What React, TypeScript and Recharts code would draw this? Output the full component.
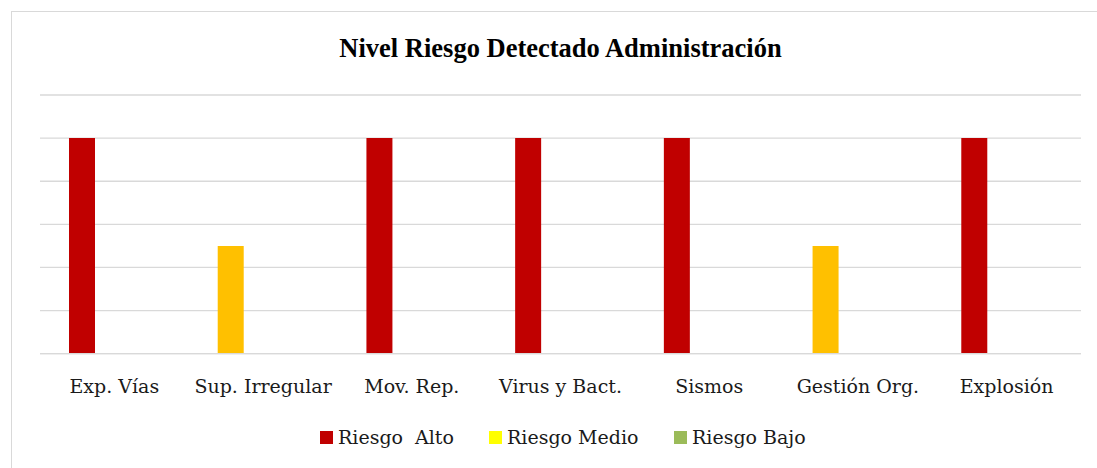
import { BarChart, Bar, CartesianGrid, XAxis, YAxis, Cell } from 'recharts'

const categories = [
  'Exp. Vías',
  'Sup. Irregular',
  'Mov. Rep.',
  'Virus y Bact.',
  'Sismos',
  'Gestión Org.',
  'Explosión',
]
const riesgoAlto = [5, 2.5, 5, 5, 5, 2.5, 5]
const riesgoMedio = [0, 0, 0, 0, 0, 0, 0]
const riesgoBajo = [0, 0, 0, 0, 0, 0, 0]
const yTicks = [0, 1, 2, 3, 4, 5, 6]

const data = categories.map((name, i) => ({
  name,
  alto: riesgoAlto[i],
  medio: riesgoMedio[i],
  bajo: riesgoBajo[i],
}))

const RED = '#C00000'
const ORANGE = '#FFC000'
const YELLOW = '#FFFF00'
const GREEN = '#9BBB59'
const GRID = '#D9D9D9'
const FONT = '"DejaVu Serif", serif'

function CategoryTick(props: any) {
  const { x, y, payload } = props
  return (
    <text
      x={x}
      y={y + 31}
      textAnchor="middle"
      fill="#1a1a1a"
      style={{ fontFamily: FONT, fontSize: 19 }}
    >
      {payload.value}
    </text>
  )
}

const legendItems = [
  { label: 'Riesgo  Alto', color: RED, left: 320 },
  { label: 'Riesgo Medio', color: YELLOW, left: 489 },
  { label: 'Riesgo Bajo', color: GREEN, left: 674 },
]

export default function App() {
  return (
    <div
      style={{
        position: 'absolute',
        left: 0,
        top: 0,
        width: 1097,
        height: 468,
        overflow: 'hidden',
        background: '#FFFFFF',
      }}
    >
      <div
        style={{
          position: 'absolute',
          left: 10.5,
          top: 10.5,
          width: 1120,
          height: 500,
          border: `1.5px solid ${GRID}`,
        }}
      />

      <div
        style={{
          position: 'absolute',
          left: 0,
          width: 1121,
          top: 34.5,
          textAlign: 'center',
          fontFamily: '"Liberation Serif", serif',
          fontWeight: 700,
          fontSize: 26.5,
          lineHeight: 1,
          color: '#000',
        }}
      >
        Nivel Riesgo Detectado Administración
      </div>

      <div style={{ position: 'absolute', left: 0, top: 0 }}>
        <BarChart
          width={1097}
          height={468}
          data={data}
          margin={{ top: 95, right: 16, bottom: 84.3, left: 40 }}
          barGap={6}
        >
          <CartesianGrid
            vertical={false}
            stroke={GRID}
            strokeWidth={1.3}
          />
          <YAxis hide domain={[0, 6]} ticks={yTicks} />
          <XAxis
            dataKey="name"
            height={30}
            axisLine={{ stroke: GRID, strokeWidth: 1.3 }}
            tickLine={false}
            tick={<CategoryTick />}
            interval={0}
          />
          <Bar dataKey="alto" name="Riesgo  Alto" fill={RED} barSize={26} isAnimationActive={false}>
            {data.map((d, i) => (
              <Cell key={i} fill={d.alto >= 5 ? RED : ORANGE} />
            ))}
          </Bar>
          <Bar dataKey="medio" name="Riesgo Medio" fill={YELLOW} barSize={26} isAnimationActive={false} />
          <Bar dataKey="bajo" name="Riesgo Bajo" fill={GREEN} barSize={26} isAnimationActive={false} />
        </BarChart>
      </div>

      {legendItems.map((item) => (
        <div
          key={item.label}
          style={{
            position: 'absolute',
            left: item.left,
            top: 428,
            display: 'flex',
            alignItems: 'flex-start',
            fontFamily: FONT,
            fontSize: 19,
            lineHeight: 1,
            color: '#1a1a1a',
            whiteSpace: 'pre',
          }}
        >
          <div
            style={{
              width: 13,
              height: 13,
              marginTop: 3,
              marginRight: 5,
              background: item.color,
            }}
          />
          <span>{item.label}</span>
        </div>
      ))}
    </div>
  )
}
